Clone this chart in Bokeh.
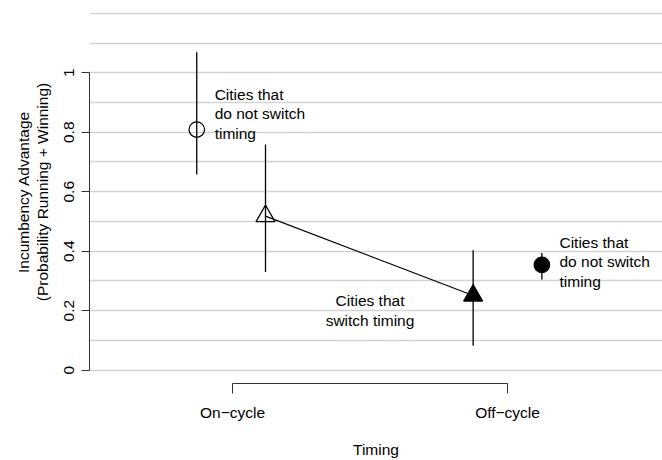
from bokeh.plotting import figure
from bokeh.models import Range1d, FixedTicker, ColumnDataSource
from bokeh.core.properties import value
from bokeh.embed import file_html
from bokeh.resources import INLINE

# ---------------- data ----------------
timing = ["On\u2212cycle", "Off\u2212cycle"]
timing_pos = [1, 2]

# Cities that do not switch timing (circles)
nonswitch_est = [0.809, 0.354]
nonswitch_lo = [0.658, 0.305]
nonswitch_hi = [1.069, 0.394]

# Cities that switch timing (triangles)
switch_est = [0.518, 0.251]
switch_lo = [0.330, 0.082]
switch_hi = [0.759, 0.403]

y_ticks = [0, 0.2, 0.4, 0.6, 0.8, 1]
y_tick_labels = ["0", "0.2", "0.4", "0.6", "0.8", "1"]
grid_ticks = [i / 10 for i in range(13)]

ann_text = ["Cities that\ndo not switch\ntiming",
            "Cities that\nswitch timing",
            "Cities that\ndo not switch\ntiming"]

# ---------------- layout / style ----------------
FONT = "Liberation Sans"
FS = "15.5px"
nonswitch_dx = [-0.13, 0.125]
switch_dx = [0.12, -0.125]

p = figure(width=662, height=460, output_backend="svg", toolbar_location=None,
           x_range=Range1d(0.48, 2.5636), y_range=Range1d(-0.0447, 1.2429),
           min_border_left=89, min_border_right=0, min_border_top=0,
           min_border_bottom=77)
p.outline_line_color = None
p.background_fill_color = "white"
p.border_fill_color = "white"

p.xgrid.visible = False
p.ygrid.ticker = FixedTicker(ticks=grid_ticks)
p.ygrid.grid_line_color = "#d3d3d3"
p.ygrid.grid_line_width = 1.5

yax = p.yaxis[0]
yax.ticker = FixedTicker(ticks=y_ticks)
yax.bounds = (0, 1)
yax.major_label_overrides = {t: l for t, l in zip(y_ticks, y_tick_labels)}
yax.major_label_orientation = "vertical"
yax.major_tick_out = 8
yax.major_tick_in = 0
yax.minor_tick_line_color = None
yax.axis_line_color = "#333333"
yax.major_tick_line_color = "#333333"
yax.major_label_text_font = FONT
yax.major_label_text_font_size = FS
yax.major_label_text_color = "black"
yax.major_label_standoff = 7
yax.axis_label = "Incumbency Advantage\n(Probability Running + Winning)"
yax.axis_label_text_font = FONT
yax.axis_label_text_font_size = FS
yax.axis_label_text_font_style = "normal"
yax.axis_label_text_color = "black"
yax.axis_label_text_line_height = 1.09
yax.axis_label_standoff = 11

xax = p.xaxis[0]
xax.ticker = FixedTicker(ticks=timing_pos)
xax.bounds = (timing_pos[0], timing_pos[-1])
xax.major_label_overrides = {t: l for t, l in zip(timing_pos, timing)}
xax.major_tick_out = 10
xax.major_tick_in = 0
xax.minor_tick_line_color = None
xax.axis_line_color = "#333333"
xax.major_tick_line_color = "#333333"
xax.major_label_text_font = FONT
xax.major_label_text_font_size = FS
xax.major_label_text_color = "black"
xax.major_label_standoff = 10
xax.axis_label = "Timing"
xax.axis_label_text_font = FONT
xax.axis_label_text_font_size = FS
xax.axis_label_text_font_style = "normal"
xax.axis_label_text_color = "black"
xax.axis_label_standoff = 17

# ---------------- marks ----------------
ns_x = [p_ + d for p_, d in zip(timing_pos, nonswitch_dx)]
sw_x = [p_ + d for p_, d in zip(timing_pos, switch_dx)]
fill_alpha = [0, 1]  # on-cycle open, off-cycle filled

ns = ColumnDataSource(dict(x=ns_x, y=nonswitch_est, lo=nonswitch_lo, hi=nonswitch_hi, fa=fill_alpha))
sw = ColumnDataSource(dict(x=sw_x, y=switch_est, lo=switch_lo, hi=switch_hi, fa=fill_alpha))

p.segment(x0="x", y0="lo", x1="x", y1="hi", source=ns, line_color="black", line_width=1.3)
p.segment(x0="x", y0="lo", x1="x", y1="hi", source=sw, line_color="black", line_width=1.3)
p.line(x="x", y="y", source=sw, line_color="black", line_width=1.1)

p.scatter(x="x", y="y", source=ns, marker="circle", size=15.5, line_color="black",
          line_width=1.2, fill_color="black", fill_alpha="fa")
p.scatter(x="x", y="y", source=sw, marker="triangle", size=19, line_color="black",
          line_width=1.2, fill_color="black", fill_alpha="fa")

# annotations
LH = 1.15
p.text(x=[0.935], y=[0.862], text=[ann_text[0]], text_font=value(FONT), text_font_size=FS,
       text_align="left", text_baseline="middle", text_line_height=LH, text_color="black")
p.text(x=[1.5], y=[0.2], text=[ann_text[1]], text_font=value(FONT), text_font_size=FS,
       text_align="center", text_baseline="middle", text_line_height=LH, text_color="black")
p.text(x=[2.189], y=[0.364], text=[ann_text[2]], text_font=value(FONT), text_font_size=FS,
       text_align="left", text_baseline="middle", text_line_height=LH, text_color="black")

open("out.html", "w").write(file_html(p, INLINE))
